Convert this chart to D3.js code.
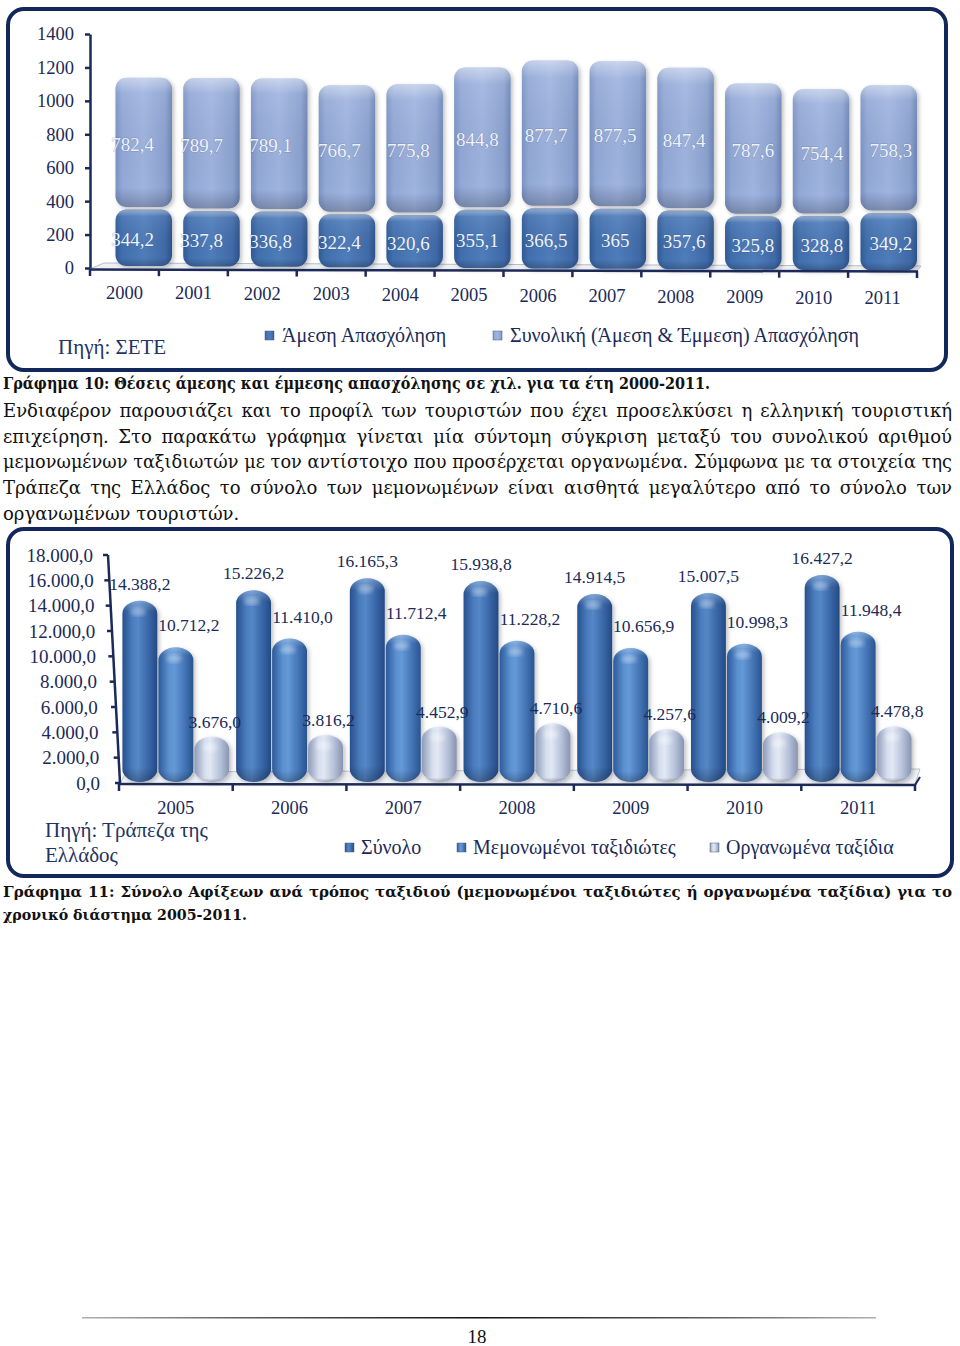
<!DOCTYPE html>
<html><head><meta charset="utf-8">
<script src="https://cdn.jsdelivr.net/npm/d3@7"></script>
<style>body{margin:0;background:#fff} svg{display:block}</style>
</head><body>
<script>
// ---------- DATA ----------
const years1 = ["2000","2001","2002","2003","2004","2005","2006","2007","2008","2009","2010","2011"];
const directJobs = [344.2,337.8,336.8,322.4,320.6,355.1,366.5,365,357.6,325.8,328.8,349.2];
const totalJobs  = [782.4,789.7,789.1,766.7,775.8,844.8,877.7,877.5,847.4,787.6,754.4,758.3];
const ticks1 = [0,200,400,600,800,1000,1200,1400];
const legend1 = ["Άμεση Απασχόληση","Συνολική (Άμεση & Έμμεση) Απασχόληση"];

const years2 = ["2005","2006","2007","2008","2009","2010","2011"];
const seriesNames2 = ["Σύνολο","Μεμονωμένοι ταξιδιώτες","Οργανωμένα ταξίδια"];
const arrivalsTotal = [14388.2,15226.2,16165.3,15938.8,14914.5,15007.5,16427.2];
const arrivalsIndep = [10712.2,11410.0,11712.4,11228.2,10656.9,10998.3,11948.4];
const arrivalsOrg   = [3676.0,3816.2,4452.9,4710.6,4257.6,4009.2,4478.8];
const ticks2 = [0,2000,4000,6000,8000,10000,12000,14000,16000,18000];

const caption1 = "Γράφημα 10: Θέσεις άμεσης και έμμεσης απασχόλησης σε χιλ. για τα έτη 2000-2011.";
const paragraph = [
 "Ενδιαφέρον παρουσιάζει και το προφίλ των τουριστών που έχει προσελκύσει η ελληνική τουριστική",
 "επιχείρηση. Στο παρακάτω γράφημα γίνεται μία σύντομη σύγκριση μεταξύ του συνολικού αριθμού",
 "μεμονωμένων ταξιδιωτών με τον αντίστοιχο που προσέρχεται οργανωμένα. Σύμφωνα με τα στοιχεία της",
 "Τράπεζα της Ελλάδος το σύνολο των μεμονωμένων είναι αισθητά μεγαλύτερο από το σύνολο των",
 "οργανωμένων τουριστών."];
const caption2 = ["Γράφημα 11: Σύνολο Αφίξεων ανά τρόπος ταξιδιού (μεμονωμένοι ταξιδιώτες ή οργανωμένα ταξίδια) για το",
 "χρονικό διάστημα 2005-2011."];

// ---------- SETUP ----------
const FONT = "'Liberation Serif','Times New Roman',serif";
const TFONT = "'DejaVu Serif',serif";
const NAVY = "#1b2a58";
const svg = d3.select("body").append("svg").attr("width",960).attr("height",1346)
  .style("font-family",FONT);
const defs = svg.append("defs");
function hGrad(id, stops){
  const g = defs.append("linearGradient").attr("id",id).attr("x1",0).attr("x2",1).attr("y1",0).attr("y2",0);
  stops.forEach(s=>g.append("stop").attr("offset",s[0]).attr("stop-color",s[1]));
}
function vGrad(id, stops){
  const g = defs.append("linearGradient").attr("id",id).attr("x1",0).attr("x2",0).attr("y1",0).attr("y2",1);
  stops.forEach(s=>g.append("stop").attr("offset",s[0]).attr("stop-color",s[1]).attr("stop-opacity",s[2]));
}
hGrad("lightSeg",[[0,"#7c93c3"],[0.12,"#92a8d6"],[0.5,"#9fb4df"],[0.88,"#8ba2d0"],[1,"#6c84b5"]]);
hGrad("darkSeg",[[0,"#2f5a96"],[0.12,"#416fae"],[0.5,"#4f7dbb"],[0.88,"#3f6aa8"],[1,"#2b5189"]]);
vGrad("bevel",[[0,"#ffffff",0.45],[0.12,"#ffffff",0.08],[0.85,"#000000",0],[1,"#000000",0.22]]);
hGrad("cylTot",[[0,"#27508e"],[0.3,"#4c7ebf"],[0.45,"#5587c6"],[0.75,"#3966a6"],[1,"#244a84"]]);
hGrad("cylInd",[[0,"#2d5a99"],[0.3,"#5b90d0"],[0.45,"#6599d7"],[0.75,"#4475b6"],[1,"#2a548f"]]);
hGrad("cylOrg",[[0,"#8e9bb8"],[0.3,"#d6deee"],[0.45,"#e2e8f4"],[0.75,"#b4c0d8"],[1,"#8894b0"]]);
vGrad("cylShade",[[0,"#ffffff",0.25],[0.06,"#ffffff",0.0],[0.92,"#000000",0],[1,"#000000",0.25]]);
hGrad("footLine",[[0,"#b0b0b0"],[0.2,"#606060"],[0.5,"#111111"],[0.8,"#606060"],[1,"#b0b0b0"]]);
defs.append("filter").attr("id","blur").append("feGaussianBlur").attr("stdDeviation",2);
const shadow = defs.append("filter").attr("id","shadow").attr("x","-20%").attr("y","-20%").attr("width","150%").attr("height","150%");
shadow.append("feDropShadow").attr("dx",2).attr("dy",2).attr("stdDeviation",2).attr("flood-color","#000").attr("flood-opacity",0.25);

// ---------- CHART 1 ----------
svg.append("rect").attr("x",8).attr("y",9).attr("width",938).attr("height",361)
  .attr("rx",16).attr("fill","#fff").attr("stroke","#12275a").attr("stroke-width",4);

const x1 = d3.scaleBand().domain(years1).range([90,917]).padding(0);
const y1 = d3.scaleLinear().domain([0,1400]).range([268,34]);
const bw1 = x1.bandwidth();
const n1 = years1.length;

svg.append("path").attr("d",`M92,268 L104,263 L921,266 L917,271`).attr("fill","#eef0f4").attr("stroke","#b8bcc6").attr("stroke-width",1);

const g1 = svg.append("g");
const yAx1 = svg.append("g").attr("transform","translate(90,0)")
  .call(d3.axisLeft(y1).tickValues(ticks1).tickSize(5).tickSizeOuter(0).tickPadding(11).tickFormat(d3.format("d")));
yAx1.select(".domain").attr("stroke",NAVY).attr("stroke-width",2.5);
yAx1.selectAll(".tick line").attr("stroke",NAVY).attr("stroke-width",2.5);
yAx1.selectAll(".tick text").attr("fill",NAVY).style("font-size","18.5px").style("font-family",FONT);

svg.append("line").attr("x1",89).attr("x2",918).attr("y1",269.5).attr("y2",271.5).attr("stroke",NAVY).attr("stroke-width",2.5);
svg.selectAll(".xt1").data(years1.concat(["end"])).enter().append("line")
  .attr("x1",d=>d==="end"?917:x1(d)).attr("x2",d=>d==="end"?917:x1(d))
  .attr("y1",(d,i)=>269.5+i*0.17).attr("y2",(d,i)=>276+i*0.17).attr("stroke",NAVY).attr("stroke-width",2.5);
svg.selectAll(".xl1").data(years1).enter().append("text")
  .attr("x",d=>x1(d)+bw1/2).attr("y",(d,i)=>299+i*0.45).attr("text-anchor","middle")
  .attr("fill",NAVY).style("font-size","18.5px").text(d=>d);

const fmt1 = v => String(v).replace(".",",");
years1.forEach((yr,i)=>{
  const off = bw1*(0.37 - 0.19*i/(n1-1));
  const bx = x1(yr)+off, bwid = bw1*0.82;
  const sh = -2 + 0.4*i;
  const yD = y1(directJobs[i])+sh, y0 = y1(0)+sh, yT = y1(directJobs[i]+totalJobs[i])+sh;
  const segs = [
    {top:yD+1, bot:y0, fill:"url(#darkSeg)", val:directJobs[i]},
    {top:yT, bot:yD-1.5, fill:"url(#lightSeg)", val:totalJobs[i]}
  ];
  segs.forEach(s=>{
    g1.append("rect").attr("x",bx).attr("y",s.top).attr("width",bwid).attr("height",s.bot-s.top)
      .attr("rx",11).attr("fill",s.fill).attr("filter","url(#shadow)");
    g1.append("rect").attr("x",bx).attr("y",s.top).attr("width",bwid).attr("height",s.bot-s.top)
      .attr("rx",11).attr("fill","url(#bevel)");
    g1.append("text").attr("x",x1(yr)+bw1*0.62).attr("y",(s.top+s.bot)/2+2).attr("dy","0.35em")
      .attr("text-anchor","middle").attr("fill","#eef2fa").style("font-size","19px")
      .style("paint-order","stroke").attr("stroke","rgba(40,60,100,0.25)").attr("stroke-width",1)
      .text(fmt1(s.val));
  });
});

const leg1 = [{x:265, fill:"url(#darkSeg)", t:legend1[0]},{x:493, fill:"url(#lightSeg)", t:legend1[1]}];
leg1.forEach(l=>{
  svg.append("rect").attr("x",l.x).attr("y",331).attr("width",9).attr("height",9).attr("fill",l.fill).attr("stroke","#555f7a").attr("stroke-width",0.5);
  svg.append("text").attr("x",l.x+17).attr("y",342).attr("fill",NAVY).style("font-size","20px").text(l.t);
});
svg.append("text").attr("x",58).attr("y",354).attr("fill","#1f3464").style("font-size","21px").text("Πηγή: ΣΕΤΕ");

// ---------- TEXT BLOCK ----------
function textLine(text, x, y, width, size, weight, mode){
  const t = svg.append("text").attr("x",x).attr("y",y).attr("fill","#111")
    .style("font-family",TFONT).style("font-size",size+"px").style("font-weight",weight);
  if(mode==="left"){ t.text(text); return; }
  if(mode==="fit"){ t.text(text).attr("textLength",width).attr("lengthAdjust","spacingAndGlyphs"); return; }
  t.text(text);
  const full = t.node().getComputedTextLength();
  const words = text.split(" ");
  t.text(null);
  const spans = words.map(w=>t.append("tspan").text(w));
  let widths = spans.map(s=>s.node().getComputedTextLength());
  let k = 1;
  if(full > width - 2){ k = (width - 2)/full; }
  widths = widths.map(w=>w*k);
  if(k<1) spans.forEach((s,i)=>s.attr("textLength",widths[i]).attr("lengthAdjust","spacingAndGlyphs"));
  const gap = (width - d3.sum(widths))/(words.length-1);
  let cx = x;
  spans.forEach((s,i)=>{ s.attr("x",cx); cx += widths[i]+gap; });
}
textLine(caption1, 3, 389, 707, 16, "bold", "fit");
paragraph.forEach((l,i)=> textLine(l, 3, 417+i*25.7, 949, 18, "normal", i<paragraph.length-1 ? "justify" : "left"));

// ---------- CHART 2 ----------
svg.append("rect").attr("x",8).attr("y",529).attr("width",944).attr("height",347)
  .attr("rx",16).attr("fill","#fff").attr("stroke","#12275a").attr("stroke-width",4);

const x2 = d3.scaleBand().domain(years2).range([119,915]).padding(0);
const bw2 = x2.bandwidth();
const inner = d3.scaleBand().domain(seriesNames2).range([bw2*0.03,bw2*0.97]).paddingInner(0.03);
const y2 = d3.scaleLinear().domain([0,18000]).range([783,555]);
const axX = v => 120 - 12*v/18000;
const fmt2 = d3.formatLocale({decimal:",",thousands:".",grouping:[3],currency:["","€"]}).format(",.1f");

svg.append("path").attr("d","M121,782 L126,772 L920,769 L915,784").attr("fill","#f1f2f5").attr("stroke","#c0c3cb").attr("stroke-width",1);

const g2 = svg.append("g");
const series2 = [
  {name:seriesNames2[0], vals:arrivalsTotal, fill:"url(#cylTot)", dx:0, dy:-17},
  {name:seriesNames2[1], vals:arrivalsIndep, fill:"url(#cylInd)", dx:13, dy:-22},
  {name:seriesNames2[2], vals:arrivalsOrg, fill:"url(#cylOrg)", dx:3, dy:-15}
];
years2.forEach((yr,i)=>{
  series2.forEach(s=>{
    const bx = x2(yr)+inner(s.name), w = inner.bandwidth();
    const top = y2(s.vals[i]), bot = y2(0)-1;
    g2.append("rect").attr("x",bx).attr("y",top).attr("width",w).attr("height",bot-top)
      .attr("rx",w/2).attr("ry",13).attr("fill",s.fill).attr("filter","url(#shadow)");
    g2.append("rect").attr("x",bx).attr("y",top).attr("width",w).attr("height",bot-top)
      .attr("rx",w/2).attr("ry",13).attr("fill","url(#cylShade)");
    g2.append("ellipse").attr("cx",bx+w*0.45).attr("cy",top+11).attr("rx",w*0.22).attr("ry",4)
      .attr("fill","#fff").attr("opacity",0.35).attr("filter","url(#blur)");
  });
});
years2.forEach((yr,i)=>{
  series2.forEach(s=>{
    const cx = x2(yr)+inner(s.name)+inner.bandwidth()/2;
    g2.append("text").attr("x",cx+s.dx).attr("y",y2(s.vals[i])+s.dy).attr("dy","0.35em")
      .attr("text-anchor","middle").attr("fill",NAVY).style("font-size","17.5px").text(fmt2(s.vals[i]));
  });
});

svg.append("line").attr("x1",axX(0)).attr("y1",y2(0)).attr("x2",axX(18000)).attr("y2",y2(18000))
  .attr("stroke",NAVY).attr("stroke-width",2.5);
svg.selectAll(".yt2").data(ticks2).enter().append("line")
  .attr("x1",d=>axX(d)-5).attr("x2",d=>axX(d)).attr("y1",d=>y2(d)).attr("y2",d=>y2(d))
  .attr("stroke",NAVY).attr("stroke-width",2.5);
svg.selectAll(".yl2").data(ticks2).enter().append("text")
  .attr("x",d=>100-7*d/18000).attr("y",d=>y2(d)).attr("dy","0.35em").attr("text-anchor","end")
  .attr("fill",NAVY).style("font-size","19px").text(d=>fmt2(d));

svg.append("line").attr("x1",118).attr("x2",916).attr("y1",784).attr("y2",785).attr("stroke",NAVY).attr("stroke-width",2.5);
svg.append("line").attr("x1",915).attr("x2",920).attr("y1",785).attr("y2",777).attr("stroke",NAVY).attr("stroke-width",2);
svg.selectAll(".xt2").data(years2.concat(["end"])).enter().append("line")
  .attr("x1",d=>d==="end"?915:x2(d)).attr("x2",d=>d==="end"?915:x2(d))
  .attr("y1",784).attr("y2",791).attr("stroke",NAVY).attr("stroke-width",2.5);
svg.selectAll(".xl2").data(years2).enter().append("text")
  .attr("x",d=>x2(d)+bw2/2).attr("y",814).attr("text-anchor","middle")
  .attr("fill",NAVY).style("font-size","18.5px").text(d=>d);

const legX2 = [345,457,710];
series2.forEach((s,i)=>{
  svg.append("rect").attr("x",legX2[i]).attr("y",843).attr("width",9).attr("height",9).attr("fill",s.fill).attr("stroke","#555f7a").attr("stroke-width",0.5);
  svg.append("text").attr("x",legX2[i]+16).attr("y",854).attr("fill",NAVY).style("font-size","20px").text(s.name);
});
svg.append("text").attr("x",45).attr("y",837).attr("fill","#1f3464").style("font-size","21px").text("Πηγή: Τράπεζα της");
svg.append("text").attr("x",45).attr("y",862).attr("fill","#1f3464").style("font-size","21px").text("Ελλάδος");

textLine(caption2[0], 3, 897, 949, 15, "bold", "justify");
textLine(caption2[1], 3, 920, 244, 15.5, "bold", "fit");

// ---------- FOOTER ----------
svg.append("rect").attr("x",82).attr("y",1317).attr("width",794).attr("height",1.5).attr("fill","url(#footLine)");
svg.append("text").attr("x",477).attr("y",1343).attr("text-anchor","middle").attr("fill","#111").style("font-size","19px").text("18");
</script>
</body></html>
